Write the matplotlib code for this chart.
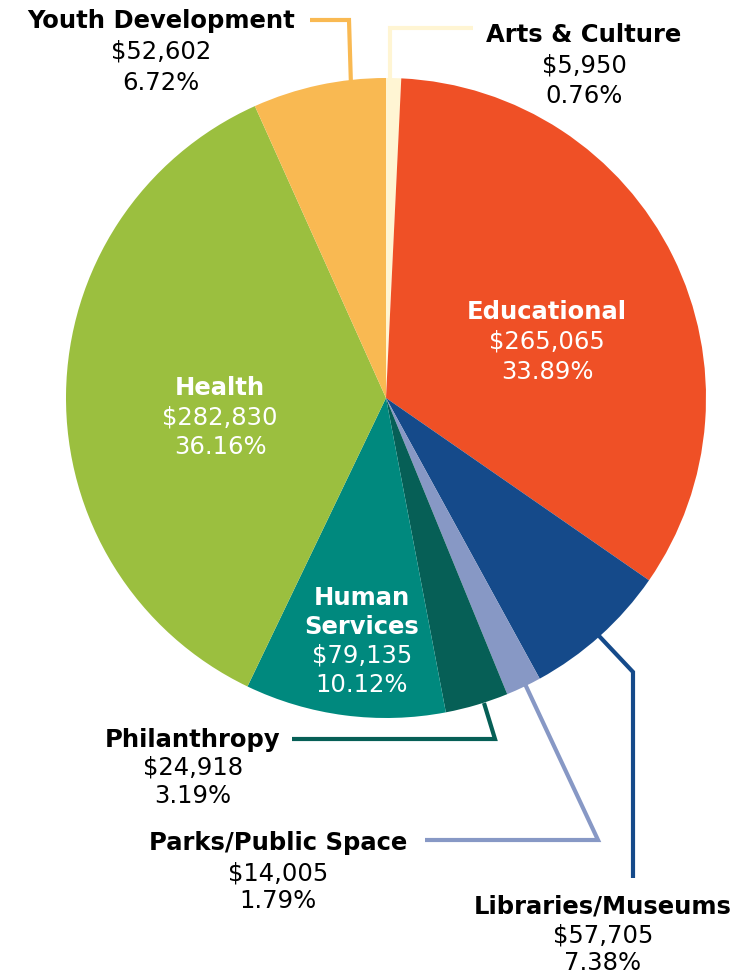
import matplotlib
matplotlib.use('Agg')
from matplotlib import pyplot as plt

# slices in drawing order (clockwise from 12 o'clock)
categories = ['Arts & Culture', 'Educational', 'Libraries/Museums', 'Parks/Public Space',
              'Philanthropy', 'Human Services', 'Health', 'Youth Development']
amounts = [5950, 265065, 57705, 14005, 24918, 79135, 282830, 52602]
percents = [0.76, 33.89, 7.38, 1.79, 3.19, 10.12, 36.16, 6.72]
colors = ['#FFF5D3', '#EF5026', '#154A8A', '#8798C5', '#065F56', '#00897E', '#9BBF3F', '#F9B952']

W, H = 738, 976
plt.rcParams['font.family'] = ['DejaVu Sans']

fig = plt.figure(figsize=(W / 100, H / 100), dpi=100)
ax = fig.add_axes([0, 0, 1, 1])


def Y(y):
    # picture rows -> data y
    return H - y


cx, cy, r = 386, 398, 320
ax.pie(percents, colors=colors, startangle=90, counterclock=False,
       center=(cx, Y(cy)), radius=r, wedgeprops=dict(linewidth=0))
ax.set_xlim(0, W)
ax.set_ylim(0, H)
ax.set_aspect('equal')
ax.axis('off')

# leader lines (picture coords)
leaders = {
    'Youth Development': [(310, 20), (349, 20), (351, 86)],
    'Arts & Culture': [(473, 28), (390, 28), (390, 90)],
    'Philanthropy': [(292, 739), (495, 739), (484, 703)],
    'Parks/Public Space': [(425, 840), (598, 840), (525, 684)],
    'Libraries/Museums': [(633, 878), (633, 672), (600, 637), (575, 610)],
}
for name, pts in leaders.items():
    c = colors[categories.index(name)]
    ax.plot([p[0] for p in pts], [Y(p[1]) for p in pts], color=c, lw=3,
            solid_joinstyle='miter', solid_capstyle='butt', zorder=5)

# label placement: x centre, y of each line, text colour
labels = {
    'Youth Development': (161, [21, 52, 83], 'black'),
    'Arts & Culture': (584, [35, 65, 96], 'black'),
    'Educational': (547, [312, 342, 372], 'white'),
    'Health': (220, [388, 418, 447], 'white'),
    'Human Services': (362, [598, 627, 656, 685], 'white'),
    'Philanthropy': (193, [740, 768, 796], 'black'),
    'Parks/Public Space': (278, [843, 873, 901], 'black'),
    'Libraries/Museums': (603, [906, 936, 963], 'black'),
}
for name, (x, ys, tc) in labels.items():
    i = categories.index(name)
    title_lines = ['Human', 'Services'] if name == 'Human Services' else [name]
    lines = title_lines + ['${:,}'.format(amounts[i]), '{:.2f}%'.format(percents[i])]
    for k, (txt, y) in enumerate(zip(lines, ys)):
        bold = k < len(title_lines)
        ax.text(x, Y(y), txt, ha='center', va='center',
                fontsize=17.5 if bold else 17.5,
                fontweight='bold' if bold else 'normal', color=tc, zorder=6)

fig.savefig('out.png', dpi=100)
